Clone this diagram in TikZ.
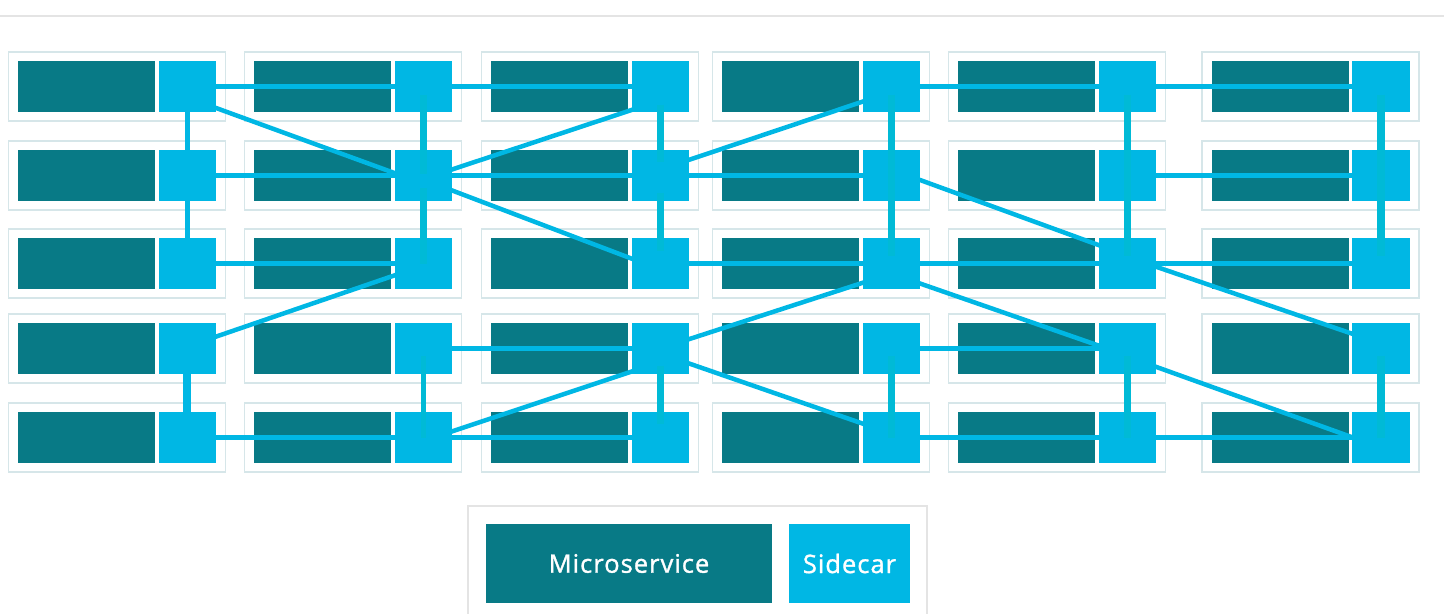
\documentclass[tikz,border=0pt]{standalone}
\usepackage{fontspec}
\setmainfont{Open Sans}
\newfontfamily\legfont[LetterSpace=4,FakeBold=1.2]{Open Sans}
\usetikzlibrary{calc}
\definecolor{msteal}{RGB}{8,122,134}
\definecolor{scyan}{RGB}{0,183,228}
\definecolor{vcyan}{RGB}{0,186,214}
\definecolor{obox}{RGB}{214,230,233}
\definecolor{greyline}{RGB}{228,228,228}
\pgfdeclarelayer{bg}
\pgfdeclarelayer{lines}
\pgfdeclarelayer{top}
\pgfsetlayers{bg,lines,main,top}
\begin{document}
\begin{tikzpicture}[x=1pt,y=-1pt,
  outerbox/.style={draw=obox,line width=1.6pt,inner sep=0pt,outer sep=0pt,anchor=north west,minimum width=217pt,minimum height=69pt},
  msbox/.style={fill=msteal,draw=none,inner sep=0pt,outer sep=0pt,anchor=north west,minimum width=137pt,minimum height=51pt},
  scbox/.style={fill=scyan,draw=none,inner sep=0pt,outer sep=0pt,anchor=north west,minimum width=57.5pt,minimum height=51pt},
  link/.style={draw=scyan,line width=4.5pt},
  vlink/.style={draw=vcyan,line width=7.5pt},
  legtext/.style={text=white,font=\legfont\fontsize{25.5}{30}\selectfont}
]
\useasboundingbox (0,0) rectangle (1444,614);
\draw[greyline,line width=2pt] (0,15.7) -- (1444,15.7);

% grid of microservice + sidecar units
\foreach \c/\x in {1/18,2/254,3/491,4/722,5/958,6/1211.5}{
  \foreach \r/\y in {1/61,2/150,3/238,4/323,5/412}{
    \begin{pgfonlayer}{bg}
      \node[outerbox] (o\r\c) at ({\x-9.5},{\y-9}) {};
      \node[msbox] (m\r\c) at (\x,\y) {};
    \end{pgfonlayer}
    \node[scbox] (s\r\c) at ({\x+140.5},\y) {};
  }
}

\begin{pgfonlayer}{lines}
  % horizontal links
  \foreach \a/\b in {11/12,12/13,14/15,15/16,21/22,22/23,23/24,25/26,31/32,33/34,34/35,35/36,42/43,44/45,51/52,52/53,54/55,55/56}{
    \draw[link] (s\a.center) -- (s\b.center);
  }
  % diagonal links
  \foreach \a/\da/\b/\db in {11/11/22/8, 22/3.5/13/14, 22/4/33/6, 23/-6/14/5.5, 41/-2/32/2, 43/0/34/10, 43/5/54/-4, 52/3.5/43/13.5, 24/-6/35/-8, 34/10/45/7, 35/-6.6/46/-5, 45/8/56/10}{
    \draw[link] ($(s\a.center)+(0,\da)$) -- ($(s\b.center)+(0,\db)$);
  }
  % first column verticals
  \draw[link,line width=4.7pt] (s11.center) -- (s21.center) -- (s31.center);
  \draw[link,line width=8pt] (s41.center) -- (s51.center);
\end{pgfonlayer}

\begin{pgfonlayer}{top}
  \draw[vlink,line width=7pt] ($(s12.center)+(0,8)$) -- ($(s22.center)+(0,-2)$);
  \draw[vlink,line width=7pt] ($(s22.center)+(0,12)$) -- ($(s32.center)+(0,0)$);
  \draw[vlink,line width=5pt] ($(s42.center)+(0,7)$) -- ($(s52.center)+(0,0)$);
  \foreach \c in {3}{
    \draw[vlink] ($(s1\c.center)+(0,18)$) -- ($(s2\c.center)+(0,-14)$);
    \draw[vlink] ($(s2\c.center)+(0,17)$) -- ($(s3\c.center)+(0,-13)$);
    \draw[vlink] ($(s4\c.center)+(0,17)$) -- ($(s5\c.center)+(0,-14)$);
  }
  \foreach \c in {4,5,6}{
    \draw[vlink] ($(s1\c.center)+(0,8)$) -- (s2\c.center);
    \draw[vlink] (s2\c.center) -- ($(s3\c.center)+(0,-8)$);
    \draw[vlink] ($(s4\c.center)+(0,7)$) -- (s5\c.center);
  }
\end{pgfonlayer}

% legend
\draw[greyline,line width=1.6pt] (468,614) -- (468,506) -- (927,506) -- (927,614);
\node[msbox,minimum width=286pt,minimum height=79pt,legtext] (legms) at (486,524) {Microservice};
\node[scbox,minimum width=121pt,minimum height=79pt,legtext] (legsc) at (789,524) {Sidecar};
\end{tikzpicture}
\end{document}
